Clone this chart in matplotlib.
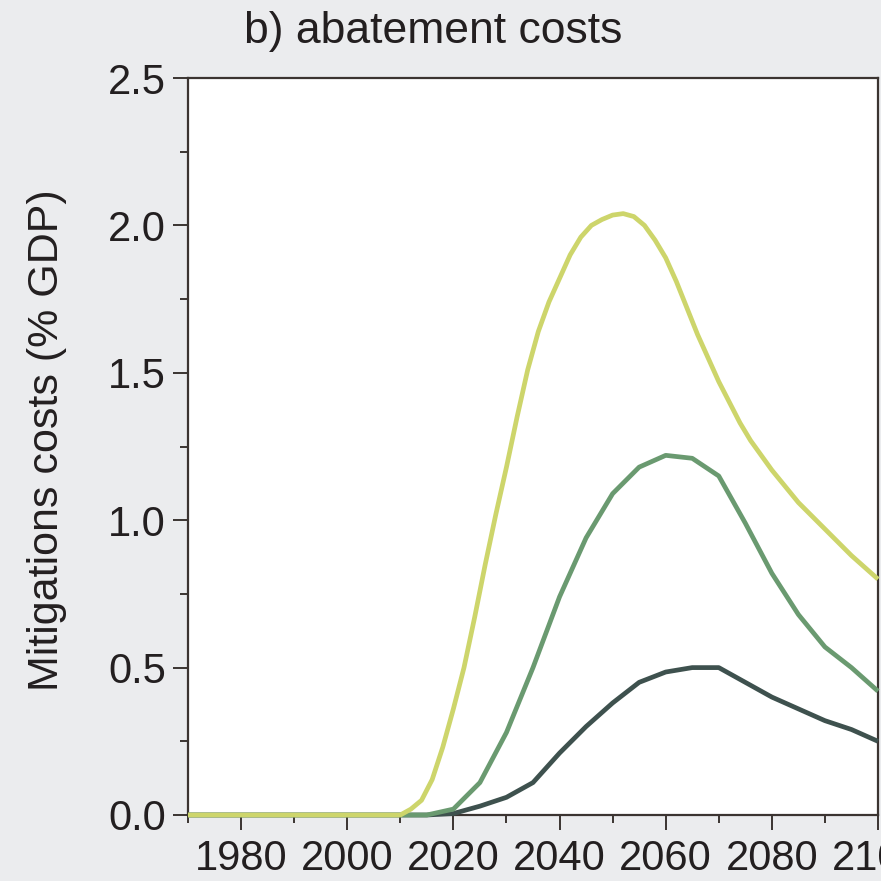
import matplotlib
matplotlib.use("Agg")
import matplotlib.pyplot as plt
from matplotlib.ticker import MultipleLocator, FormatStrFormatter

plt.rcParams['font.family'] = ['Liberation Sans', 'DejaVu Sans']

# 5-year series (middle and low cost paths)
years = [1970, 1975, 1980, 1985, 1990, 1995, 2000, 2005, 2010, 2015, 2020, 2025,
         2030, 2035, 2040, 2045, 2050, 2055, 2060, 2065, 2070, 2075, 2080, 2085,
         2090, 2095, 2100]

mid_cost = [0, 0, 0, 0, 0, 0, 0, 0, 0, 0.0, 0.02, 0.11,
            0.28, 0.50, 0.74, 0.94, 1.09, 1.18, 1.22, 1.21, 1.15, 0.99, 0.82, 0.68,
            0.57, 0.50, 0.42]

low_cost = [0, 0, 0, 0, 0, 0, 0, 0, 0, 0.0, 0.005, 0.03,
            0.06, 0.11, 0.21, 0.30, 0.38, 0.45, 0.485, 0.50, 0.50, 0.45, 0.40, 0.36,
            0.32, 0.29, 0.25]

# high cost path (smooth curve, read at finer spacing)
years_high = [1970, 1980, 1990, 2000, 2010, 2012, 2014, 2016, 2018, 2020, 2022, 2024,
              2026, 2028, 2030, 2032, 2034, 2036, 2038, 2040, 2042, 2044, 2046, 2048,
              2050, 2052, 2054, 2056, 2058, 2060, 2062, 2064, 2066, 2068, 2070, 2072,
              2074, 2076, 2078, 2080, 2085, 2090, 2095, 2100]
high_cost = [0, 0, 0, 0, 0.0, 0.02, 0.05, 0.12, 0.23, 0.36, 0.50, 0.67,
             0.85, 1.02, 1.18, 1.35, 1.51, 1.64, 1.74, 1.82, 1.90, 1.96, 2.00, 2.02,
             2.035, 2.04, 2.03, 2.00, 1.95, 1.89, 1.81, 1.72, 1.63, 1.55, 1.47, 1.40,
             1.33, 1.27, 1.22, 1.17, 1.06, 0.97, 0.88, 0.80]

title = "b) abatement costs"
ylabel = "Mitigations costs (% GDP)"

bg = '#ebecee'
text_c = '#231f20'
spine_c = '#3b3431'

fig = plt.figure(figsize=(8.81, 8.81), dpi=100, facecolor=bg)
ax = fig.add_axes([188/881, 1 - 815/881, (878-188)/881, (815-78)/881])
ax.set_facecolor('white')

kw = dict(lw=3.4, solid_joinstyle='round', solid_capstyle='butt', clip_on=False)
ax.plot(years, low_cost, color='#3e514e', zorder=3, **kw)
ax.plot(years, mid_cost, color='#6a9a70', zorder=4, **kw)
ax.plot(years_high, high_cost, color='#cdd56b', zorder=5, **kw)

ax.set_xlim(1970, 2100)
ax.set_ylim(0, 2.5)
ax.set_xticks([1980, 2000, 2020, 2040, 2060, 2080, 2100])
ax.xaxis.set_minor_locator(MultipleLocator(10))
ax.yaxis.set_major_locator(MultipleLocator(0.5))
ax.yaxis.set_minor_locator(MultipleLocator(0.25))
ax.yaxis.set_major_formatter(FormatStrFormatter('%.1f'))

for s in ax.spines.values():
    s.set_color(spine_c)
    s.set_linewidth(1.6)

ax.tick_params(which='major', direction='out', length=11, width=1.4, color=spine_c,
               labelsize=30, labelcolor=text_c)
ax.tick_params(which='minor', direction='out', length=6, width=1.4, color=spine_c)
ax.tick_params(axis='y', which='major', pad=5)
ax.tick_params(axis='x', which='major', pad=6)

fig.text(433.5/881, 1 - 31/881, title, ha='center', va='center', fontsize=32, color=text_c)
fig.text(47/881, 1 - 440/881, ylabel, ha='center', va='center', rotation=90,
         fontsize=31, color=text_c)

fig.savefig('out.png', dpi=100, facecolor=bg)
